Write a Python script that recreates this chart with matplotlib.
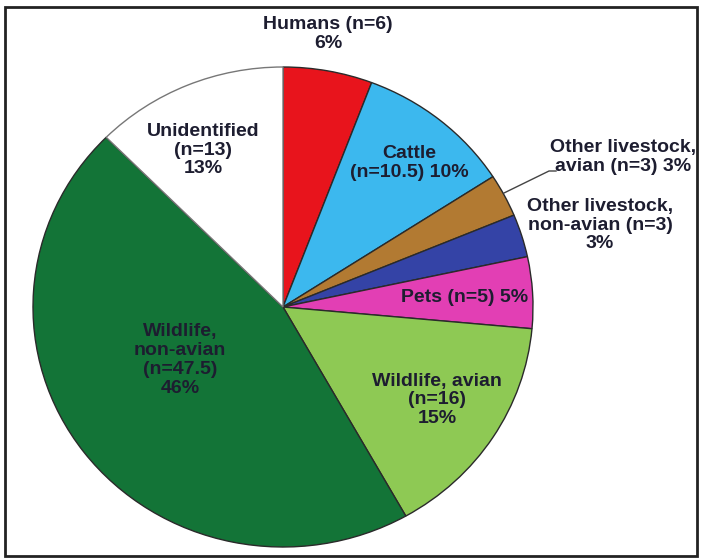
import matplotlib.pyplot as plt
from matplotlib.patches import Rectangle

# slice data, clockwise from 12 o'clock
categories = ['Humans', 'Cattle', 'Other livestock, avian', 'Other livestock, non-avian',
              'Pets', 'Wildlife, avian', 'Wildlife, non-avian', 'Unidentified']
counts = [6, 10.5, 3, 3, 5, 16, 47.5, 13]
percents = [6, 10, 3, 3, 5, 15, 46, 13]
labels = ['Humans (n=6)\n6%',
          'Cattle\n(n=10.5) 10%',
          'Other livestock,\navian (n=3) 3%',
          'Other livestock,\nnon-avian (n=3)\n3%',
          'Pets (n=5) 5%',
          'Wildlife, avian\n(n=16)\n15%',
          'Wildlife,\nnon-avian\n(n=47.5)\n46%',
          'Unidentified\n(n=13)\n13%']
colors = ['#e8141c', '#3cb8ee', '#b27a32', '#3443a6', '#e23fb4', '#8ec954', '#137437', '#ffffff']

W, H = 702, 558
cx, cy = 283, 307          # pie centre, pixels from top-left
rx, ry = 250, 240          # the pie is slightly squashed

# label centres in pixels (x, y from top)
label_pos = [(328, 34), (409, 163), (623, 157), (600, 225), (465, 297),
             (437, 400), (180, 360), (203, 150)]

fig = plt.figure(figsize=(W / 100, H / 100), dpi=100)
ax = fig.add_axes([0, 0, 1, 1])


def px(x, y):
    return (x - cx) / rx, (cy - y) / ry


wedges, _ = ax.pie(counts, colors=colors, startangle=90, counterclock=False,
                   radius=1, center=(0, 0), frame=True,
                   wedgeprops=dict(edgecolor='#2a2a2a', linewidth=1.0))
ax.set_xlim(-cx / rx, (W - cx) / rx)
ax.set_ylim(-(H - cy) / ry, cy / ry)
ax.set_aspect('auto')
ax.axis('off')
wedges[-1].set_edgecolor('#777777')

for lab, (x, y) in zip(labels, label_pos):
    ax.text(*px(x, y), lab, ha='center', va='center', fontsize=14,
            fontweight='bold', family='Liberation Sans', color='#1d1d30',
            linespacing=1.15)

# leader line for the small avian livestock slice
pts = [px(504, 193), px(549, 171), px(556, 171)]
ax.plot([p[0] for p in pts], [p[1] for p in pts], color='#444444', linewidth=1)

# outer frame
fig.patches.append(Rectangle((5 / W, 2 / H), 692 / W, 549 / H, transform=fig.transFigure,
                             fill=False, edgecolor='#222222', linewidth=2))

fig.savefig('out.png', dpi=100, facecolor='white')
